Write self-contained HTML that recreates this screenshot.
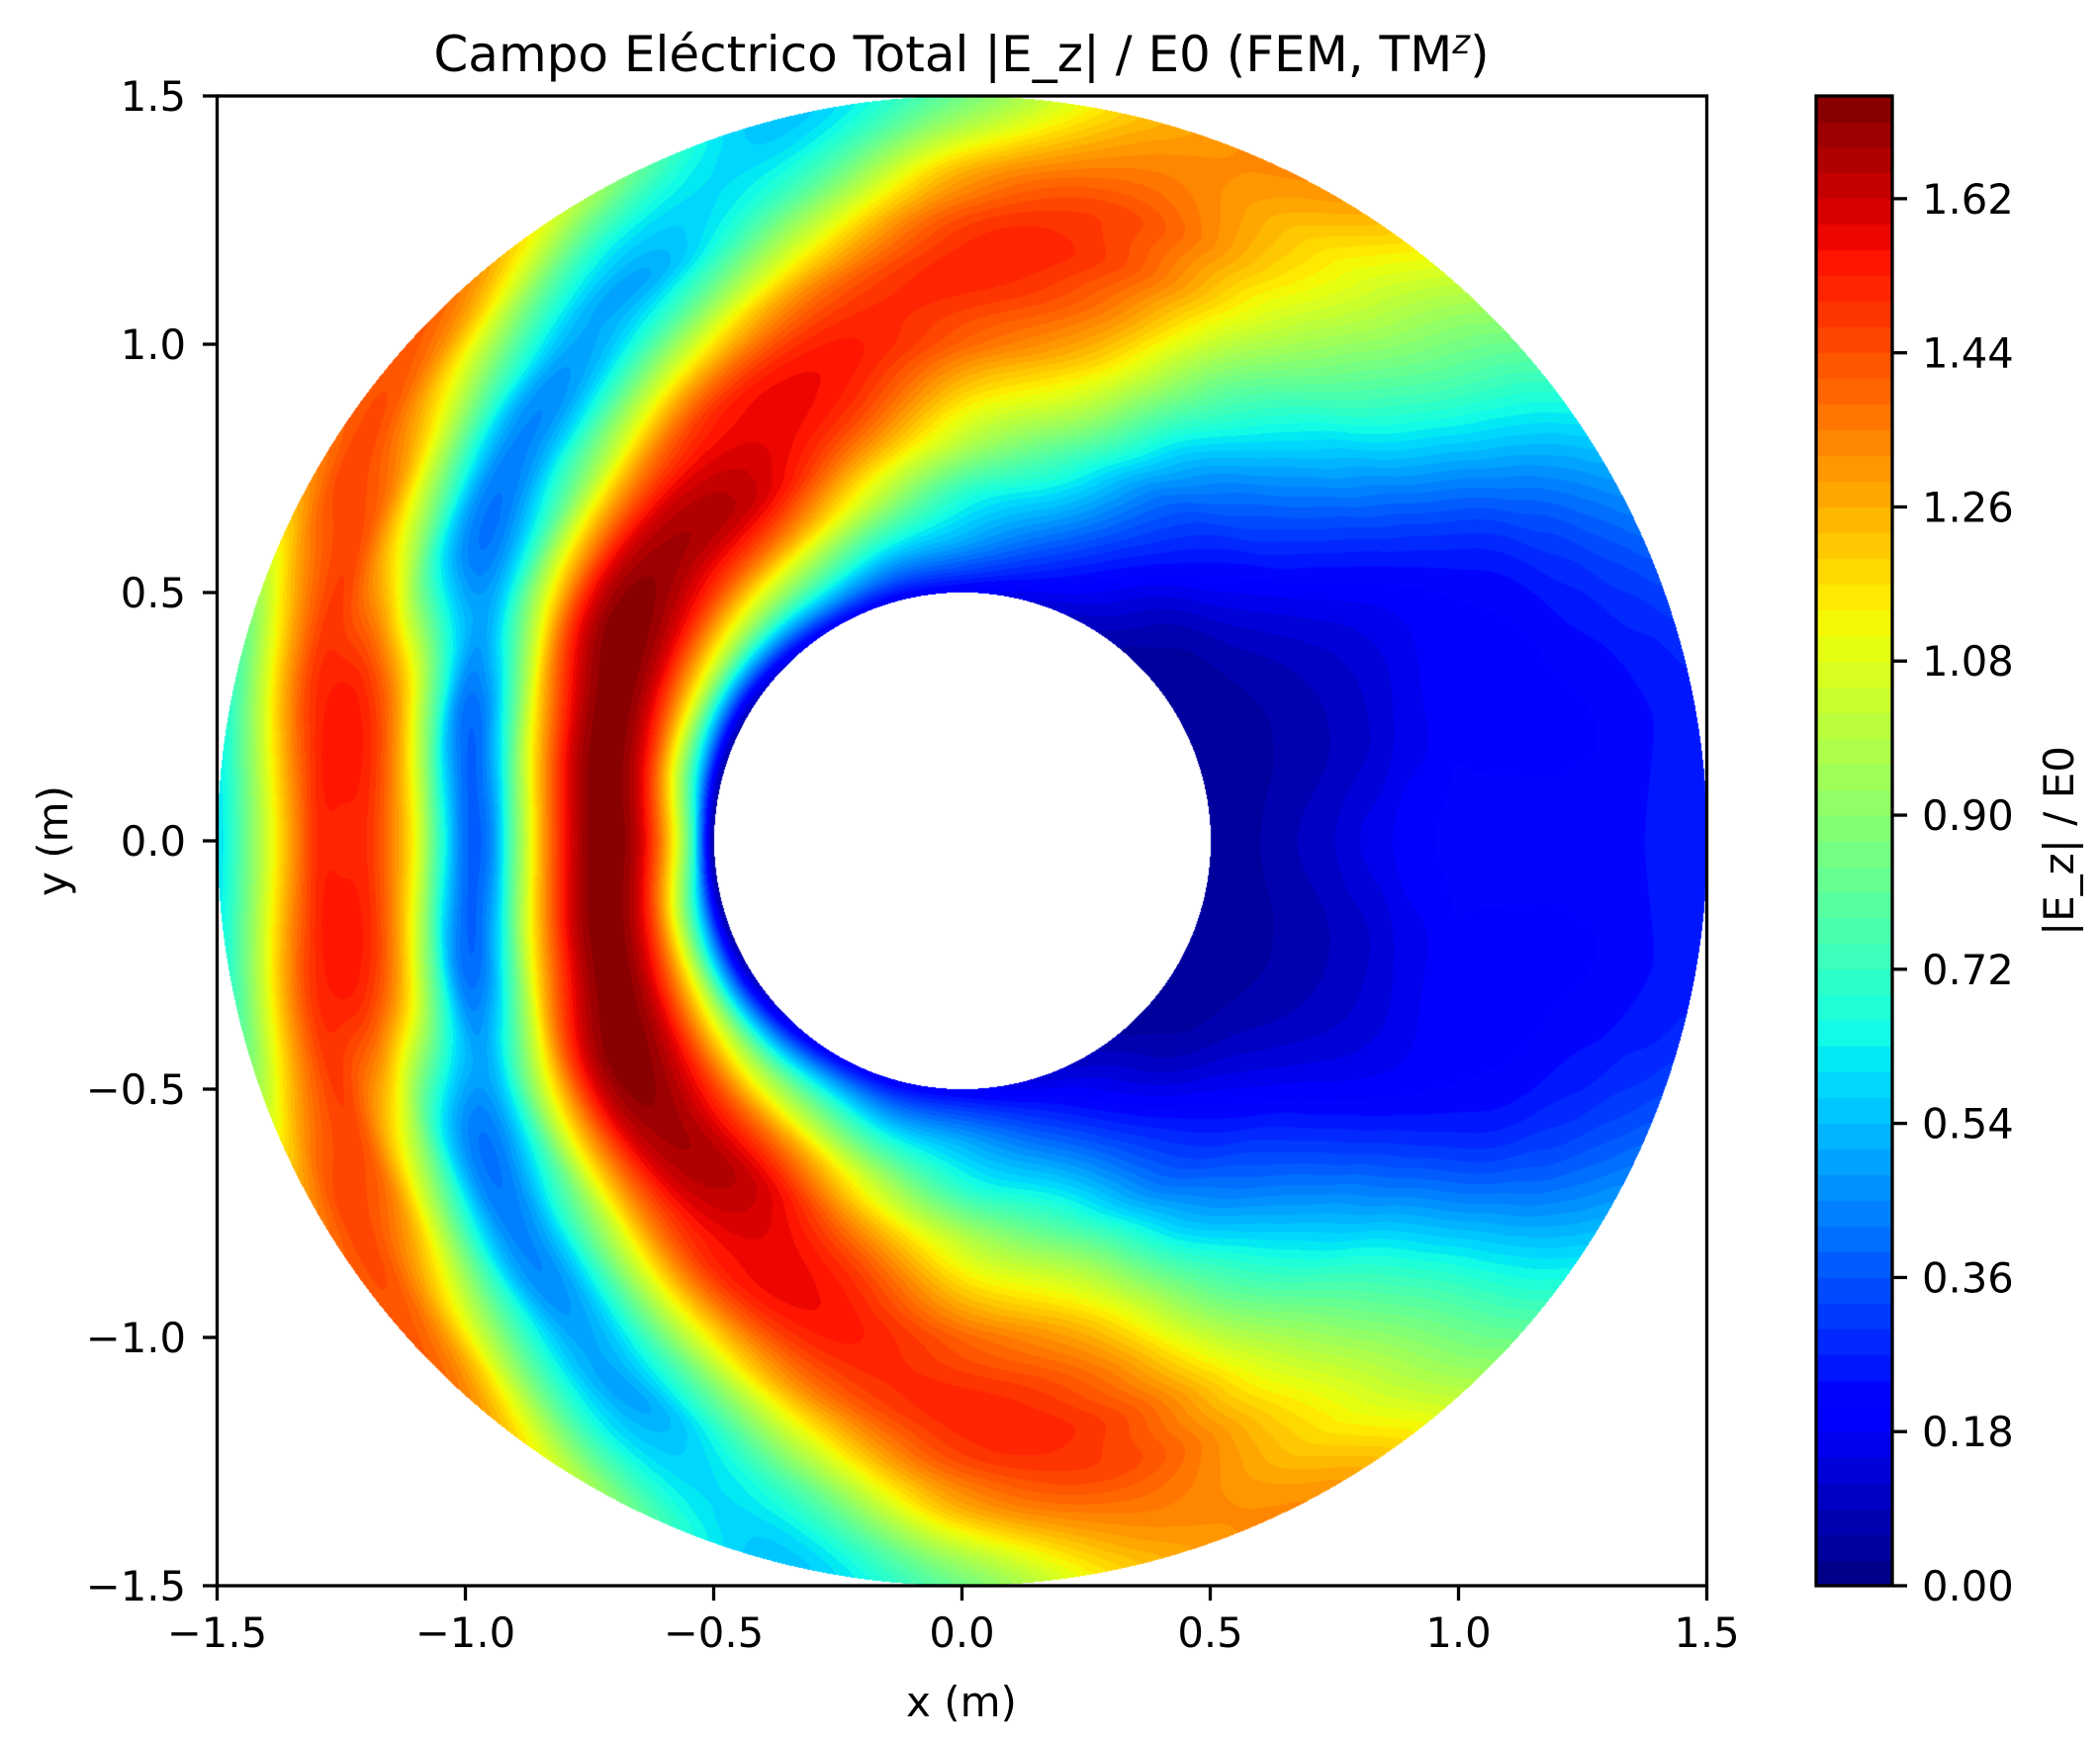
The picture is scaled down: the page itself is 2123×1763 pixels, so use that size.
<!DOCTYPE html>
<html><head><meta charset="utf-8"><style>
body{margin:0;background:#fff;width:2123px;height:1763px;overflow:hidden;position:relative;font-family:"DejaVu Sans","Liberation Sans",sans-serif;}
canvas{position:absolute;}
svg{position:absolute;left:0;top:0;}
</style></head><body>
<canvas id="field" width="1506" height="1506" style="left:220px;top:97px"></canvas>
<canvas id="cbar" width="77" height="1506" style="left:1836px;top:97px"></canvas>
<svg id="ov" width="2123" height="1763">
<text x="972" y="72" font-size="50" text-anchor="middle" font-family="DejaVu Sans, sans-serif">Campo Eléctrico Total |E_z| / E0 (FEM, TM<tspan font-size="34" dy="-18" font-style="italic">z</tspan><tspan dy="18">)</tspan></text>
<text x="972" y="1735" font-size="42" text-anchor="middle">x (m)</text>
<text x="0" y="0" font-size="42" text-anchor="middle" transform="translate(68,850) rotate(-90)">y (m)</text>
<text x="0" y="0" font-size="42" text-anchor="middle" transform="translate(2096,850) rotate(-90)">|E_z| / E0</text>
<g id="axes"></g>
</svg>
<script>
// polar sample grid (upper half; field assumed symmetric about y=0)
const thetaDeg = [0,15,30,45,60,75,90,105,120,135,150,165,180];
const radii = [0.5,0.55,0.6,0.65,0.7,0.75,0.8,0.85,0.9,0.95,1.0,1.05,1.1,1.15,1.2,1.25,1.3,1.35,1.4,1.45,1.5];
const ez0   = [0.03,0.045,0.06,0.08,0.10,0.12,0.15,0.17,0.20,0.21,0.22,0.22,0.22,0.22,0.22,0.22,0.22,0.23,0.25,0.26,0.27];
const ez15  = [0.04,0.045,0.05,0.06,0.07,0.085,0.10,0.12,0.15,0.17,0.20,0.20,0.20,0.20,0.20,0.21,0.22,0.23,0.25,0.26,0.28];
const ez30  = [0.04,0.045,0.05,0.065,0.08,0.10,0.12,0.14,0.16,0.18,0.20,0.22,0.24,0.26,0.28,0.31,0.35,0.38,0.42,0.46,0.50];
const ez45  = [0.04,0.06,0.08,0.12,0.17,0.21,0.25,0.30,0.34,0.39,0.44,0.50,0.55,0.62,0.68,0.73,0.78,0.82,0.85,0.88,0.92];
const ez60  = [0.10,0.15,0.20,0.26,0.32,0.37,0.42,0.50,0.57,0.66,0.75,0.82,0.90,0.98,1.05,1.10,1.15,1.18,1.20,1.25,1.30];
const ez75  = [0.15,0.25,0.35,0.45,0.55,0.65,0.75,0.88,1.00,1.10,1.20,1.28,1.35,1.40,1.45,1.45,1.45,1.40,1.35,1.30,1.25];
const ez90  = [0.20,0.35,0.50,0.60,0.70,0.85,1.00,1.10,1.20,1.30,1.40,1.45,1.50,1.52,1.50,1.45,1.35,1.25,1.10,0.95,0.85];
const ez105 = [0.20,0.40,0.60,0.80,1.00,1.15,1.30,1.42,1.50,1.54,1.55,1.52,1.45,1.35,1.20,1.05,0.90,0.75,0.65,0.58,0.55];
const ez120 = [0.20,0.50,0.80,1.05,1.30,1.48,1.60,1.62,1.60,1.56,1.50,1.35,1.15,0.95,0.75,0.60,0.50,0.55,0.65,0.80,0.95];
const ez135 = [0.15,0.50,0.90,1.20,1.45,1.60,1.68,1.68,1.60,1.42,1.20,0.95,0.75,0.55,0.45,0.50,0.70,0.90,1.10,1.30,1.40];
const ez150 = [0.08,0.50,1.00,1.35,1.60,1.72,1.74,1.68,1.50,1.20,0.90,0.60,0.45,0.45,0.60,0.90,1.15,1.38,1.45,1.45,1.35];
const ez165 = [0.06,0.60,1.10,1.50,1.70,1.74,1.65,1.42,1.10,0.70,0.43,0.45,0.80,1.15,1.38,1.50,1.52,1.48,1.30,1.05,0.82];
const ez180 = [0.05,0.80,1.30,1.62,1.74,1.72,1.55,1.25,0.85,0.45,0.40,0.70,1.10,1.35,1.50,1.52,1.50,1.30,1.05,0.80,0.60];
const field = [ez0,ez15,ez30,ez45,ez60,ez75,ez90,ez105,ez120,ez135,ez150,ez165,ez180];
const levelStep = 0.03, vmax = 1.74;
const xTicks = [-1.5,-1.0,-0.5,0.0,0.5,1.0,1.5];
const yTicks = [-1.5,-1.0,-0.5,0.0,0.5,1.0,1.5];
const cTicks = [0.00,0.18,0.36,0.54,0.72,0.90,1.08,1.26,1.44,1.62];

const PL=219.5, PT=97, PW=1506, PH=1506;
const xs = v => PL + (v+1.5)/3*PW;
const ys = v => PT + (1.5-v)/3*PH;
const cs = v => 1603 - v/vmax*1506;

function seg(pts,x){for(let i=0;i<pts.length-1;i++){if(x<=pts[i+1][0]){const t=(x-pts[i][0])/(pts[i+1][0]-pts[i][0]);return pts[i][1]+t*(pts[i+1][1]-pts[i][1]);}}return pts[pts.length-1][1];}
function jet(x){return [seg([[0,0],[0.35,0],[0.66,1],[0.89,1],[1,0.5]],x),seg([[0,0],[0.125,0],[0.375,1],[0.64,1],[0.91,0],[1,0]],x),seg([[0,0.5],[0.11,1],[0.34,1],[0.65,0],[1,0]],x)].map(c=>Math.round(c*255));}
const nLev = Math.round(vmax/levelStep);
const levColors=[];for(let i=0;i<nLev;i++)levColors.push(jet((i+0.5)/nLev));

function cr(p0,p1,p2,p3,t){return 0.5*((2*p1)+(-p0+p2)*t+(2*p0-5*p1+4*p2-p3)*t*t+(-p0+3*p1-3*p2+p3)*t*t*t);}
function getV(ti,ri){if(ti<0)ti=-ti;if(ti>thetaDeg.length-1)ti=2*(thetaDeg.length-1)-ti;ri=Math.max(0,Math.min(radii.length-1,ri));return field[ti][ri];}
function sample(r,th){
  const tf=(th-thetaDeg[0])/(thetaDeg[1]-thetaDeg[0]);
  const rf=(r-radii[0])/(radii[1]-radii[0]);
  const ti=Math.min(Math.floor(tf),thetaDeg.length-2), ri=Math.min(Math.floor(rf),radii.length-2);
  const tt=tf-ti, rt=rf-ri;
  const rows=[];
  for(let k=-1;k<=2;k++){rows.push(cr(getV(ti+k,ri-1),getV(ti+k,ri),getV(ti+k,ri+1),getV(ti+k,ri+2),rt));}
  return cr(rows[0],rows[1],rows[2],rows[3],tt);
}
(function(){
  const c=document.getElementById('field'),ctx=c.getContext('2d');
  const img=ctx.createImageData(PW,PH),d=img.data;
  for(let py=0;py<PH;py++){const y=1.5-(py+0.5)/PH*3;
    for(let px=0;px<PW;px++){const x=-1.5+(px+0.5)/PW*3;const r=Math.hypot(x,y);const o=(py*PW+px)*4;
      if(r<0.5||r>1.5){d[o]=d[o+1]=d[o+2]=255;d[o+3]=255;continue;}
      const th=Math.atan2(Math.abs(y),x)*180/Math.PI;
      let v=sample(r,th);let li=Math.floor(v/levelStep);li=Math.max(0,Math.min(nLev-1,li));
      const col=levColors[li];d[o]=col[0];d[o+1]=col[1];d[o+2]=col[2];d[o+3]=255;}}
  ctx.putImageData(img,0,0);
  const cb=document.getElementById('cbar'),cc=cb.getContext('2d');
  for(let i=0;i<nLev;i++){const col=levColors[i];cc.fillStyle=`rgb(${col[0]},${col[1]},${col[2]})`;
    const y0=cs((i+1)*levelStep)-97,y1=cs(i*levelStep)-97;cc.fillRect(0,Math.floor(y0),77,Math.ceil(y1-y0)+1);}
})();
(function(){
  const NS='http://www.w3.org/2000/svg',g=document.getElementById('axes');
  function mk(tag,attrs){const e=document.createElementNS(NS,tag);for(const k in attrs)e.setAttribute(k,attrs[k]);g.appendChild(e);return e;}
  const fmt=v=>(v<0?'\u2212':'')+Math.abs(v).toFixed(1);
  const frame=mk('rect',{x:PL,y:PT,width:PW,height:PH,fill:'none',stroke:'#000','stroke-width':3.3});
  
  
  xTicks.forEach(v=>{const X=xs(v);
    const t=mk('line',{x1:X,x2:X,y1:1603,y2:1618,stroke:'#000','stroke-width':3.3});
    
    
    const l=mk('text',{x:X,y:1665,'font-size':41.7,'text-anchor':'middle'});l.textContent=fmt(v);
    
    });
  yTicks.forEach(v=>{const Y=ys(v);
    const t=mk('line',{x1:205,x2:PL,y1:Y,y2:Y,stroke:'#000','stroke-width':3.3});
    
    
    const l=mk('text',{x:188,y:Y+15,'font-size':41.7,'text-anchor':'end'});l.textContent=fmt(v);
    
    });
  const cf=mk('rect',{x:1836,y:97,width:77,height:1506,fill:'none',stroke:'#000','stroke-width':3.3});
  
  
  cTicks.forEach(v=>{const Y=cs(v);
    const t=mk('line',{x1:1913,x2:1928,y1:Y,y2:Y,stroke:'#000','stroke-width':3.3});
    
    
    const l=mk('text',{x:1943,y:Y+15,'font-size':41.7});l.textContent=v.toFixed(2);
    
    });
})();
</script>
</body></html>
